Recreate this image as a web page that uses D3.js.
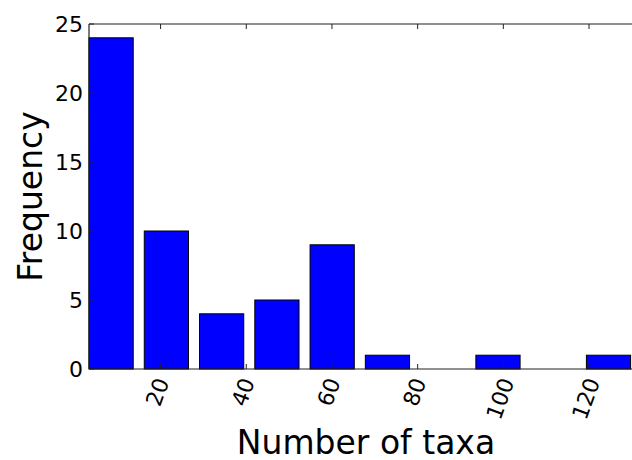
<!DOCTYPE html>
<html>
<head>
<meta charset="utf-8">
<script src="https://cdn.jsdelivr.net/npm/d3@7"></script>
<style>
  html, body { margin: 0; padding: 0; background: #fff; }
  svg { display: block; font-family: "DejaVu Sans", sans-serif; }
</style>
</head>
<body>
<svg id="chart" width="632" height="460"></svg>
<script>
// Histogram: number of taxa per sample
const binEdges = [2, 14.9, 27.8, 40.7, 53.6, 66.5, 79.4, 92.3, 105.2, 118.1, 131];
const counts = [24, 10, 4, 5, 9, 1, 0, 1, 0, 1];
const xTicks = [20, 40, 60, 80, 100, 120];
const yTicks = [0, 5, 10, 15, 20, 25];
const rwidth = 0.8;

const svg = d3.select("#chart");
const plotL = 89, plotR = 643, plotT = 24, plotB = 369;

const x = d3.scaleLinear().domain([3.29, 132.6]).range([plotL, plotR]);
const y = d3.scaleLinear().domain([0, 25]).range([plotB, plotT]);

const bins = counts.map((c, i) => ({ x0: binEdges[i], x1: binEdges[i + 1], count: c }));

// bars: each occupies the centre 80% of its bin
const barL = d => d.x0 + (d.x1 - d.x0) * (1 - rwidth) / 2;
const barR = d => d.x0 + (d.x1 - d.x0) * (1 + rwidth) / 2;
svg.append("g").selectAll("rect")
  .data(bins.filter(d => d.count > 0))
  .join("rect")
  .attr("x", d => x(barL(d)))
  .attr("width", d => x(barR(d)) - x(barL(d)))
  .attr("y", d => y(d.count))
  .attr("height", d => y(0) - y(d.count))
  .attr("fill", "#0000ff")
  .attr("stroke", "#000")
  .attr("stroke-width", 1);

// frame (right side runs off the canvas)
const frame = svg.append("g").attr("stroke", "#222").attr("stroke-width", 1.2).attr("fill", "none");
frame.append("line").attr("x1", plotL).attr("x2", plotR).attr("y1", plotB).attr("y2", plotB);
frame.append("line").attr("x1", plotL).attr("x2", plotR).attr("y1", plotT).attr("y2", plotT);
frame.append("line").attr("x1", plotL).attr("x2", plotL).attr("y1", plotT).attr("y2", plotB);

// inward ticks on bottom/top and left
const tickLen = 5;
const tk = svg.append("g").attr("stroke", "#222").attr("stroke-width", 1);
xTicks.forEach(v => {
  tk.append("line").attr("x1", x(v)).attr("x2", x(v)).attr("y1", plotB).attr("y2", plotB - tickLen);
  tk.append("line").attr("x1", x(v)).attr("x2", x(v)).attr("y1", plotT).attr("y2", plotT + tickLen);
});
yTicks.forEach(v => {
  tk.append("line").attr("x1", plotL).attr("x2", plotL + tickLen).attr("y1", y(v)).attr("y2", y(v));
});

// y tick labels
svg.append("g").selectAll("text")
  .data(yTicks)
  .join("text")
  .attr("x", plotL - 6)
  .attr("y", d => y(d))
  .attr("text-anchor", "end")
  .attr("dominant-baseline", "central")
  .attr("font-size", 22)
  .attr("fill", "#000")
  .text(d => d);

// x tick labels rotated 70 degrees, box centred under tick
const fs = 22, ang = 70 * Math.PI / 180;
const xl = svg.append("g");
xTicks.forEach(v => {
  const t = xl.append("text")
    .attr("text-anchor", "middle")
    .attr("dominant-baseline", "central")
    .attr("font-size", fs)
    .attr("fill", "#000")
    .text(v);
  const w = t.node().getComputedTextLength();
  const h = fs * 0.78;
  const bh = w * Math.sin(ang) + h * Math.cos(ang);
  const cx = x(v) - 3, cy = plotB + 7 + bh / 2;
  t.attr("transform", `translate(${cx},${cy}) rotate(-70)`);
});

// axis titles
svg.append("text")
  .attr("x", (plotL + plotR) / 2)
  .attr("y", 454)
  .attr("text-anchor", "middle")
  .attr("font-size", 33)
  .attr("fill", "#000")
  .text("Number of taxa");

svg.append("text")
  .attr("transform", `translate(42,${(plotT + plotB) / 2}) rotate(-90)`)
  .attr("text-anchor", "middle")
  .attr("font-size", 33)
  .attr("fill", "#000")
  .text("Frequency");
</script>
</body>
</html>
